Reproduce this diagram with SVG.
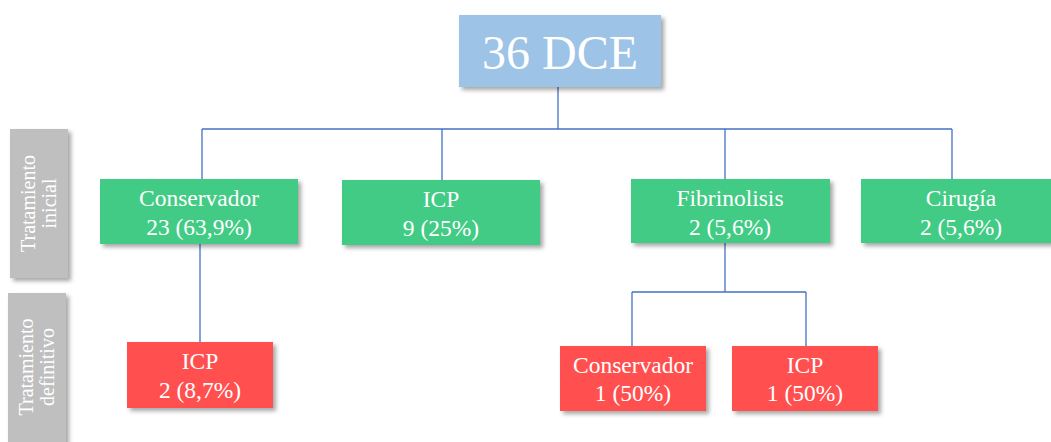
<svg xmlns="http://www.w3.org/2000/svg" width="1051" height="442" viewBox="0 0 1051 442">
<defs>
<filter id="sh" x="-10%" y="-10%" width="130%" height="140%">
<feDropShadow dx="3" dy="3" stdDeviation="2" flood-color="#000" flood-opacity="0.35"/>
</filter>
<style>
.blue{fill:#9DC3E6;filter:url(#sh)}
.green{fill:#43CB85;filter:url(#sh)}
.red{fill:#FF5050;filter:url(#sh)}
.gray{fill:#BFBFBF;filter:url(#sh)}
.t{font-family:"Liberation Serif","DejaVu Serif",serif;fill:#fff;text-anchor:middle;font-size:23.5px}
.big{font-size:48px}
.side{font-size:20px}
.conn{stroke:#4472C4;stroke-width:1.3;fill:none}
</style>
</defs>
<g id="connectors">
<path class="conn" d="M558 87V129M202 129H952M202 129V179M442 129V180M725 129V179M952 129V179"/>
<path class="conn" d="M200 244V342"/>
<path class="conn" d="M725 243V292M632 292H806M632 292V346M806 292V346"/>
</g>
<g id="label-inicial">
<rect class="gray" x="10" y="129" width="58" height="149"/>
<text class="t side" transform="translate(39 203.5) rotate(-90)"><tspan x="0" y="-4">Tratamiento</tspan><tspan x="0" y="17">inicial</tspan></text>
</g>
<g id="label-definitivo">
<rect class="gray" x="8" y="293" width="58" height="160"/>
<text class="t side" transform="translate(37 367) rotate(-90)"><tspan x="0" y="-4">Tratamiento</tspan><tspan x="0" y="17">definitivo</tspan></text>
</g>
<g id="root">
<rect class="blue" x="459" y="15" width="202" height="72"/>
<text class="t big" x="560" y="69">36 DCE</text>
</g>
<g id="conservador">
<rect class="green" x="100" y="179" width="198" height="65"/>
<text class="t" x="199" y="206">Conservador</text>
<text class="t" x="199" y="235">23 (63,9%)</text>
</g>
<g id="icp">
<rect class="green" x="342" y="180" width="198" height="65"/>
<text class="t" x="441" y="207">ICP</text>
<text class="t" x="441" y="236">9 (25%)</text>
</g>
<g id="fibrinolisis">
<rect class="green" x="631" y="179" width="199" height="64"/>
<text class="t" x="730" y="206">Fibrinolisis</text>
<text class="t" x="730" y="235">2 (5,6%)</text>
</g>
<g id="cirugia">
<rect class="green" x="861" y="179" width="194" height="64"/>
<text class="t" x="961" y="206">Cirugía</text>
<text class="t" x="961" y="235">2 (5,6%)</text>
</g>
<g id="icp-def">
<rect class="red" x="127" y="342" width="146" height="66"/>
<text class="t" x="200" y="369">ICP</text>
<text class="t" x="200" y="398">2 (8,7%)</text>
</g>
<g id="conservador-def">
<rect class="red" x="560" y="346" width="146" height="65"/>
<text class="t" x="633" y="373">Conservador</text>
<text class="t" x="633" y="401">1 (50%)</text>
</g>
<g id="icp-def2">
<rect class="red" x="732" y="346" width="146" height="65"/>
<text class="t" x="805" y="373">ICP</text>
<text class="t" x="805" y="401">1 (50%)</text>
</g>
</svg>
